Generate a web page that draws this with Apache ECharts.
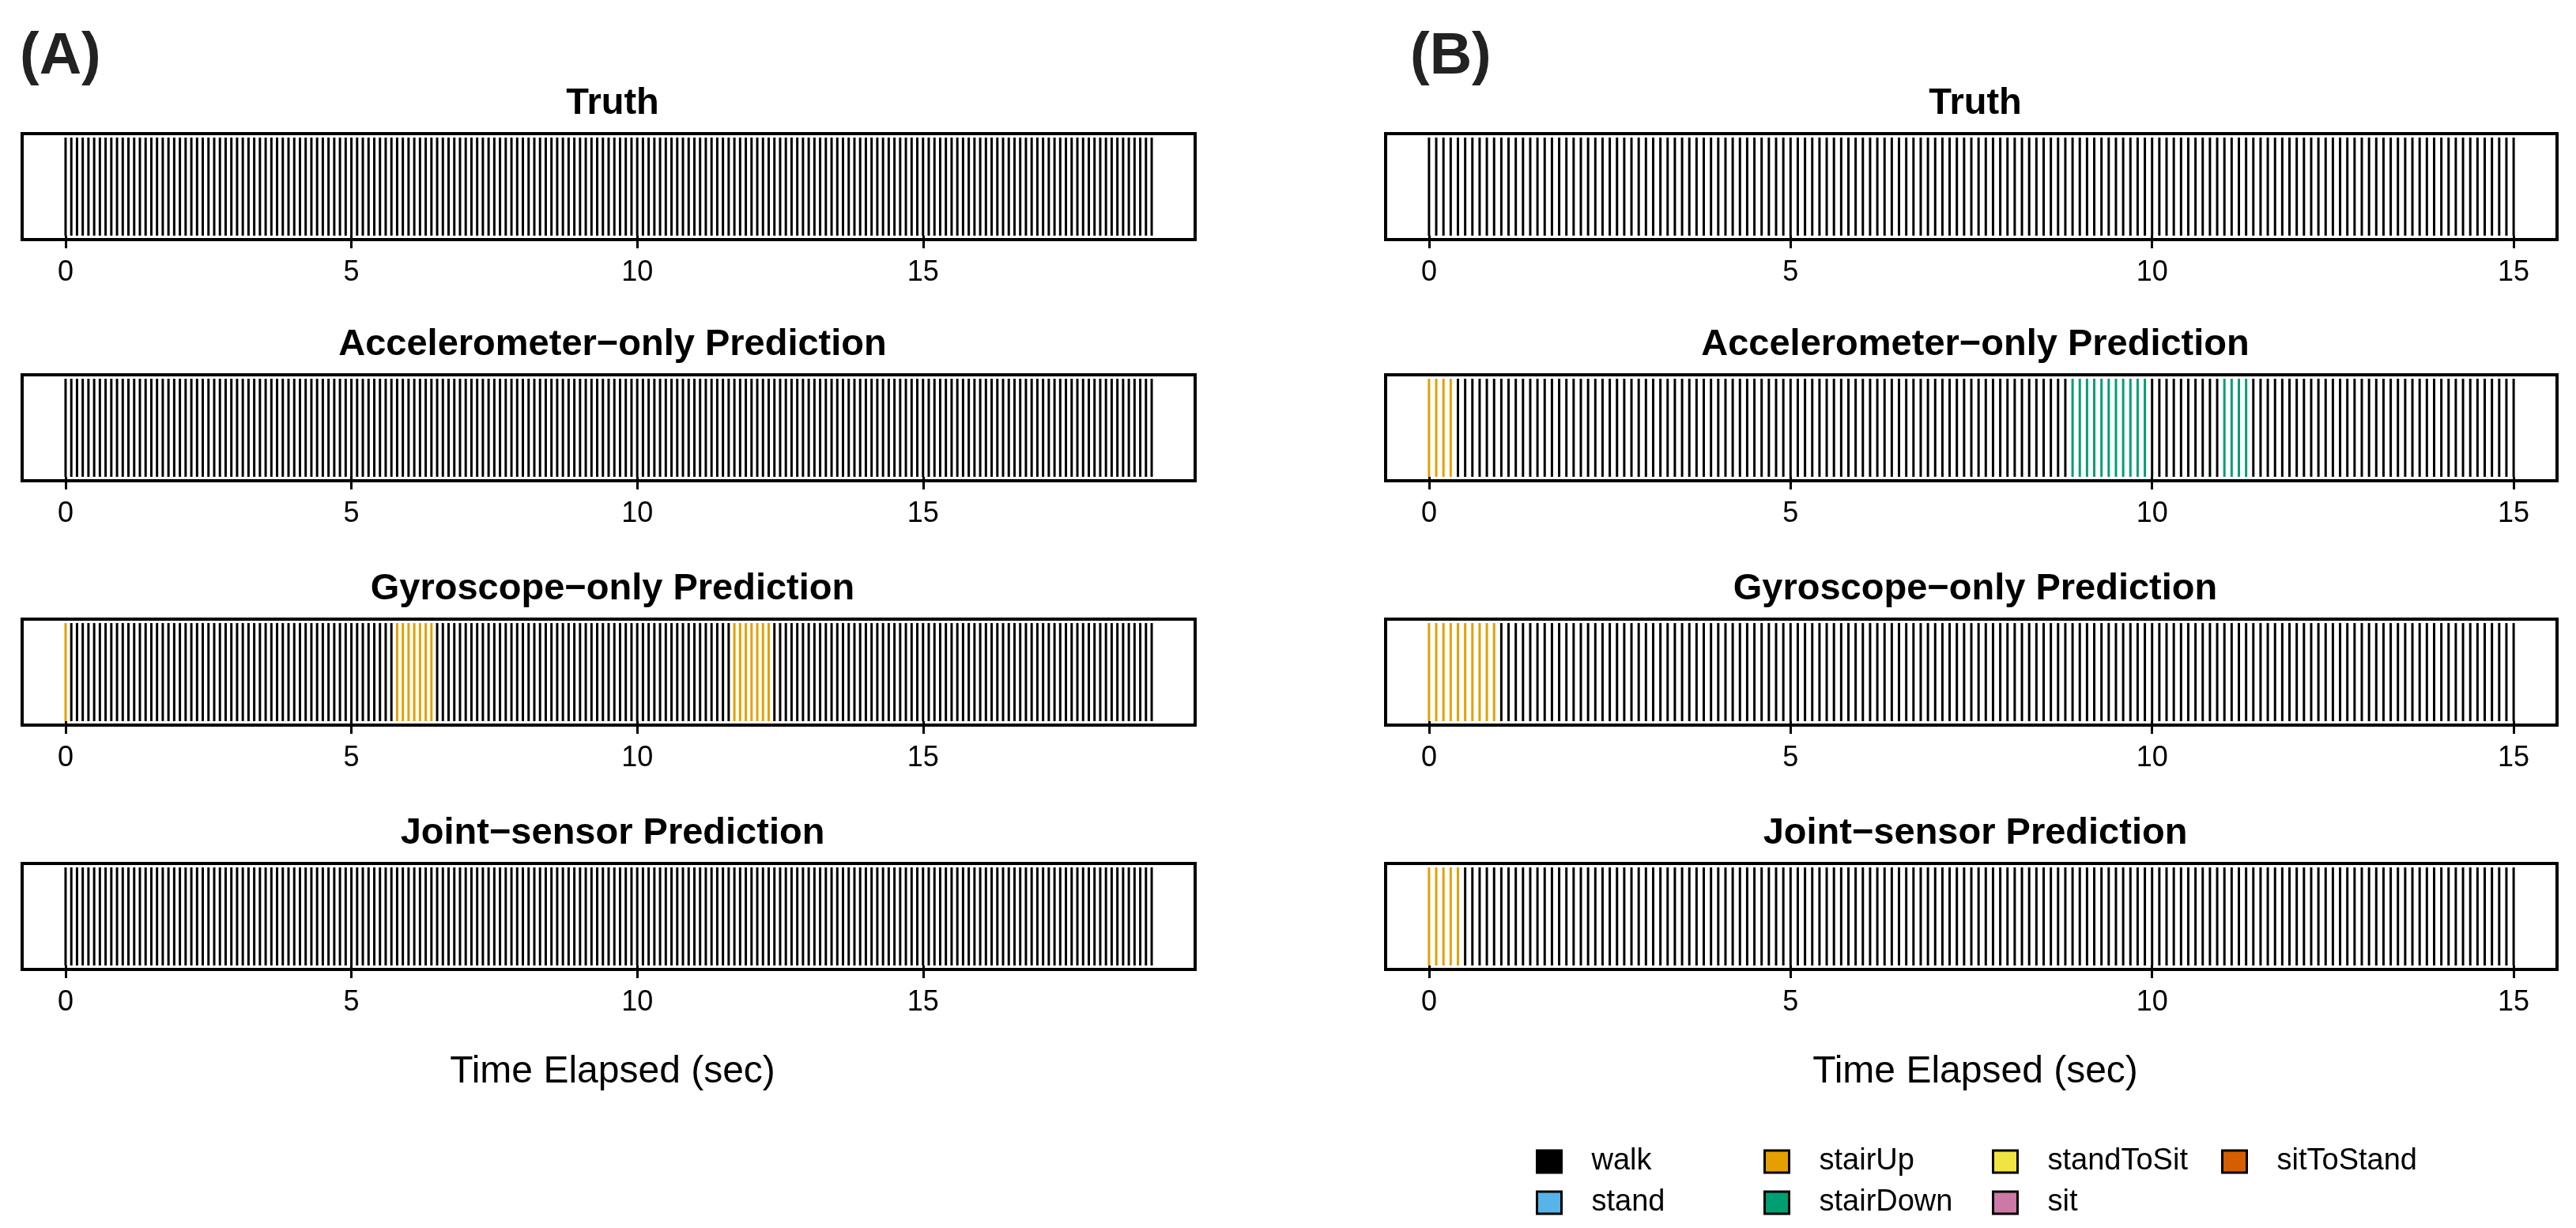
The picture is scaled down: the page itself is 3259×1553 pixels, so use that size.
<!DOCTYPE html>
<html>
<head>
<meta charset="utf-8">
<script src="https://cdn.jsdelivr.net/npm/echarts@6/dist/echarts.min.js"></script>
<style>
html,body{margin:0;padding:0;background:#fff;}
#c{width:3259px;height:1553px;}
</style>
</head>
<body>
<div id="c"></div>
<script>
// ---------- DATA ----------
const classes = ['walk', 'stand', 'stairUp', 'stairDown', 'standToSit', 'sit', 'sitToStand'];

// window times (sec) for panel A and panel B
const timesA = [
 0.0,0.1,0.2,0.3,0.4,0.5,0.6,0.7,0.8,0.9,
 1.0,1.1,1.2,1.3,1.4,1.5,1.6,1.7,1.8,1.9,
 2.0,2.1,2.2,2.3,2.4,2.5,2.6,2.7,2.8,2.9,
 3.0,3.1,3.2,3.3,3.4,3.5,3.6,3.7,3.8,3.9,
 4.0,4.1,4.2,4.3,4.4,4.5,4.6,4.7,4.8,4.9,
 5.0,5.1,5.2,5.3,5.4,5.5,5.6,5.7,5.8,5.9,
 6.0,6.1,6.2,6.3,6.4,6.5,6.6,6.7,6.8,6.9,
 7.0,7.1,7.2,7.3,7.4,7.5,7.6,7.7,7.8,7.9,
 8.0,8.1,8.2,8.3,8.4,8.5,8.6,8.7,8.8,8.9,
 9.0,9.1,9.2,9.3,9.4,9.5,9.6,9.7,9.8,9.9,
 10.0,10.1,10.2,10.3,10.4,10.5,10.6,10.7,10.8,10.9,
 11.0,11.1,11.2,11.3,11.4,11.5,11.6,11.7,11.8,11.9,
 12.0,12.1,12.2,12.3,12.4,12.5,12.6,12.7,12.8,12.9,
 13.0,13.1,13.2,13.3,13.4,13.5,13.6,13.7,13.8,13.9,
 14.0,14.1,14.2,14.3,14.4,14.5,14.6,14.7,14.8,14.9,
 15.0,15.1,15.2,15.3,15.4,15.5,15.6,15.7,15.8,15.9,
 16.0,16.1,16.2,16.3,16.4,16.5,16.6,16.7,16.8,16.9,
 17.0,17.1,17.2,17.3,17.4,17.5,17.6,17.7,17.8,17.9,
 18.0,18.1,18.2,18.3,18.4,18.5,18.6,18.7,18.8,18.9,
 19.0
];
const timesB = [
 0.0,0.1,0.2,0.3,0.4,0.5,0.6,0.7,0.8,0.9,
 1.0,1.1,1.2,1.3,1.4,1.5,1.6,1.7,1.8,1.9,
 2.0,2.1,2.2,2.3,2.4,2.5,2.6,2.7,2.8,2.9,
 3.0,3.1,3.2,3.3,3.4,3.5,3.6,3.7,3.8,3.9,
 4.0,4.1,4.2,4.3,4.4,4.5,4.6,4.7,4.8,4.9,
 5.0,5.1,5.2,5.3,5.4,5.5,5.6,5.7,5.8,5.9,
 6.0,6.1,6.2,6.3,6.4,6.5,6.6,6.7,6.8,6.9,
 7.0,7.1,7.2,7.3,7.4,7.5,7.6,7.7,7.8,7.9,
 8.0,8.1,8.2,8.3,8.4,8.5,8.6,8.7,8.8,8.9,
 9.0,9.1,9.2,9.3,9.4,9.5,9.6,9.7,9.8,9.9,
 10.0,10.1,10.2,10.3,10.4,10.5,10.6,10.7,10.8,10.9,
 11.0,11.1,11.2,11.3,11.4,11.5,11.6,11.7,11.8,11.9,
 12.0,12.1,12.2,12.3,12.4,12.5,12.6,12.7,12.8,12.9,
 13.0,13.1,13.2,13.3,13.4,13.5,13.6,13.7,13.8,13.9,
 14.0,14.1,14.2,14.3,14.4,14.5,14.6,14.7,14.8,14.9,
 15.0
];

// predicted activity segments: [startSec, endSec, class]
const truthA = [[0.0, 19.0, 'walk']];
const accelA = [[0.0, 19.0, 'walk']];
const gyroA  = [[0.0, 0.0, 'stairUp'], [0.1, 5.7, 'walk'], [5.8, 6.4, 'stairUp'], [6.5, 11.6, 'walk'], [11.7, 12.3, 'stairUp'], [12.4, 19.0, 'walk']];
const jointA = [[0.0, 19.0, 'walk']];

const truthB = [[0.0, 15.0, 'walk']];
const accelB = [[0.0, 0.3, 'stairUp'], [0.4, 8.8, 'walk'], [8.9, 9.9, 'stairDown'], [10.0, 10.9, 'walk'], [11.0, 11.3, 'stairDown'], [11.4, 15.0, 'walk']];
const gyroB  = [[0.0, 0.9, 'stairUp'], [1.0, 15.0, 'walk']];
const jointB = [[0.0, 0.4, 'stairUp'], [0.5, 15.0, 'walk']];

const rowTitles = ['Truth', 'Accelerometer\u2212only Prediction', 'Gyroscope\u2212only Prediction', 'Joint\u2212sensor Prediction'];
const tickLabels = [0, 5, 10, 15];
const panelLabels = ['(A)', '(B)'];
const xTitle = 'Time Elapsed (sec)';

// ---------- STYLE / LAYOUT ----------
const classColors = {
  walk: '#000000', stand: '#56B4E9', stairUp: '#E69F00', stairDown: '#009E73',
  standToSit: '#F0E442', sit: '#CC79A7', sitToStand: '#D55E00'
};
const FONT = '"Liberation Sans", Arial, Helvetica, sans-serif';
const rowTops = [169, 474, 783, 1092];
const rowH = 134;
const panels = [
  { left: 28, width: 1484, min: -0.76, max: 19.76, times: timesA, rows: [truthA, accelA, gyroA, jointA], center: 770 },
  { left: 1753, width: 1482, min: -0.6, max: 15.6, times: timesB, rows: [truthB, accelB, gyroB, jointB], center: 2494 }
];

function labelAt(segs, t) {
  for (const s of segs) if (t >= s[0] - 1e-9 && t <= s[1] + 1e-9) return s[2];
  return null;
}

const grids = [], xAxes = [], yAxes = [], series = [], titles = [];
let gi = 0;
panels.forEach((p, pi) => {
  p.rows.forEach((segs, ri) => {
    grids.push({ left: p.left, top: rowTops[ri], width: p.width, height: rowH, show: true,
      borderColor: '#000', borderWidth: 4, backgroundColor: 'transparent', containLabel: false });
    xAxes.push({ type: 'value', gridIndex: gi, min: p.min, max: p.max,
      axisLine: { show: false }, splitLine: { show: false },
      axisTick: { show: true, customValues: tickLabels, length: 16, lineStyle: { color: '#000', width: 3 } },
      axisLabel: { show: true, customValues: tickLabels, fontSize: 36, color: '#000', fontFamily: FONT, margin: 24 } });
    yAxes.push({ type: 'value', gridIndex: gi, min: -0.04, max: 1.04, show: false,
      splitLine: { show: false } });
    classes.forEach(cls => {
      const data = p.times.filter(t => labelAt(segs, t) === cls).map(t => [t, 1]);
      series.push({
        type: 'custom', name: cls, xAxisIndex: gi, yAxisIndex: gi,
        itemStyle: { color: classColors[cls] },
        encode: { x: 0, y: 1 },
        silent: true, animation: false,
        renderItem: function (params, api) {
          const x = api.value(0);
          const a = api.coord([x, 0]);
          const b = api.coord([x, api.value(1)]);
          return { type: 'line', shape: { x1: a[0], y1: a[1], x2: b[0], y2: b[1] },
            style: { stroke: api.visual('color'), lineWidth: 3, lineCap: 'butt' } };
        },
        data: data
      });
    });
    titles.push({ text: rowTitles[ri], left: p.center, top: rowTops[ri] - 68, textAlign: 'center',
      textStyle: { fontSize: 47, fontWeight: 'bold', color: '#000', fontFamily: FONT, lineHeight: 50 } });
    gi++;
  });
  titles.push({ text: xTitle, left: p.center, top: 1324, textAlign: 'center',
    textStyle: { fontSize: 48, fontWeight: 'normal', color: '#000', fontFamily: FONT, lineHeight: 54 } });
});
titles.push({ text: panelLabels[0], left: 20, top: 28, textStyle: { fontSize: 74, fontWeight: 'bold', color: '#222', fontFamily: FONT, lineHeight: 80 } });
titles.push({ text: panelLabels[1], left: 1779, top: 28, textStyle: { fontSize: 74, fontWeight: 'bold', color: '#222', fontFamily: FONT, lineHeight: 80 } });

const legendCols = [['walk', 'stand'], ['stairUp', 'stairDown'], ['standToSit', 'sit'], ['sitToStand']];
const legendLefts = [1943, 2231, 2520, 2810];
const legends = legendCols.map((cols, i) => ({
  data: cols, orient: 'vertical', left: legendLefts[i], top: 1450,
  itemWidth: 31, itemHeight: 28, itemGap: 14, icon: 'rect', padding: 0,
  selectedMode: false,
  itemStyle: { borderColor: '#000', borderWidth: 3 },
  textStyle: { fontSize: 38, color: '#000', fontFamily: FONT, lineHeight: 28, padding: [0, 0, 0, 33] }
}));

const chart = echarts.init(document.getElementById('c'), null, { renderer: 'canvas' });
chart.setOption({
  backgroundColor: '#fff',
  animation: false,
  title: titles,
  legend: legends,
  grid: grids,
  xAxis: xAxes,
  yAxis: yAxes,
  series: series
});
</script>
</body>
</html>
